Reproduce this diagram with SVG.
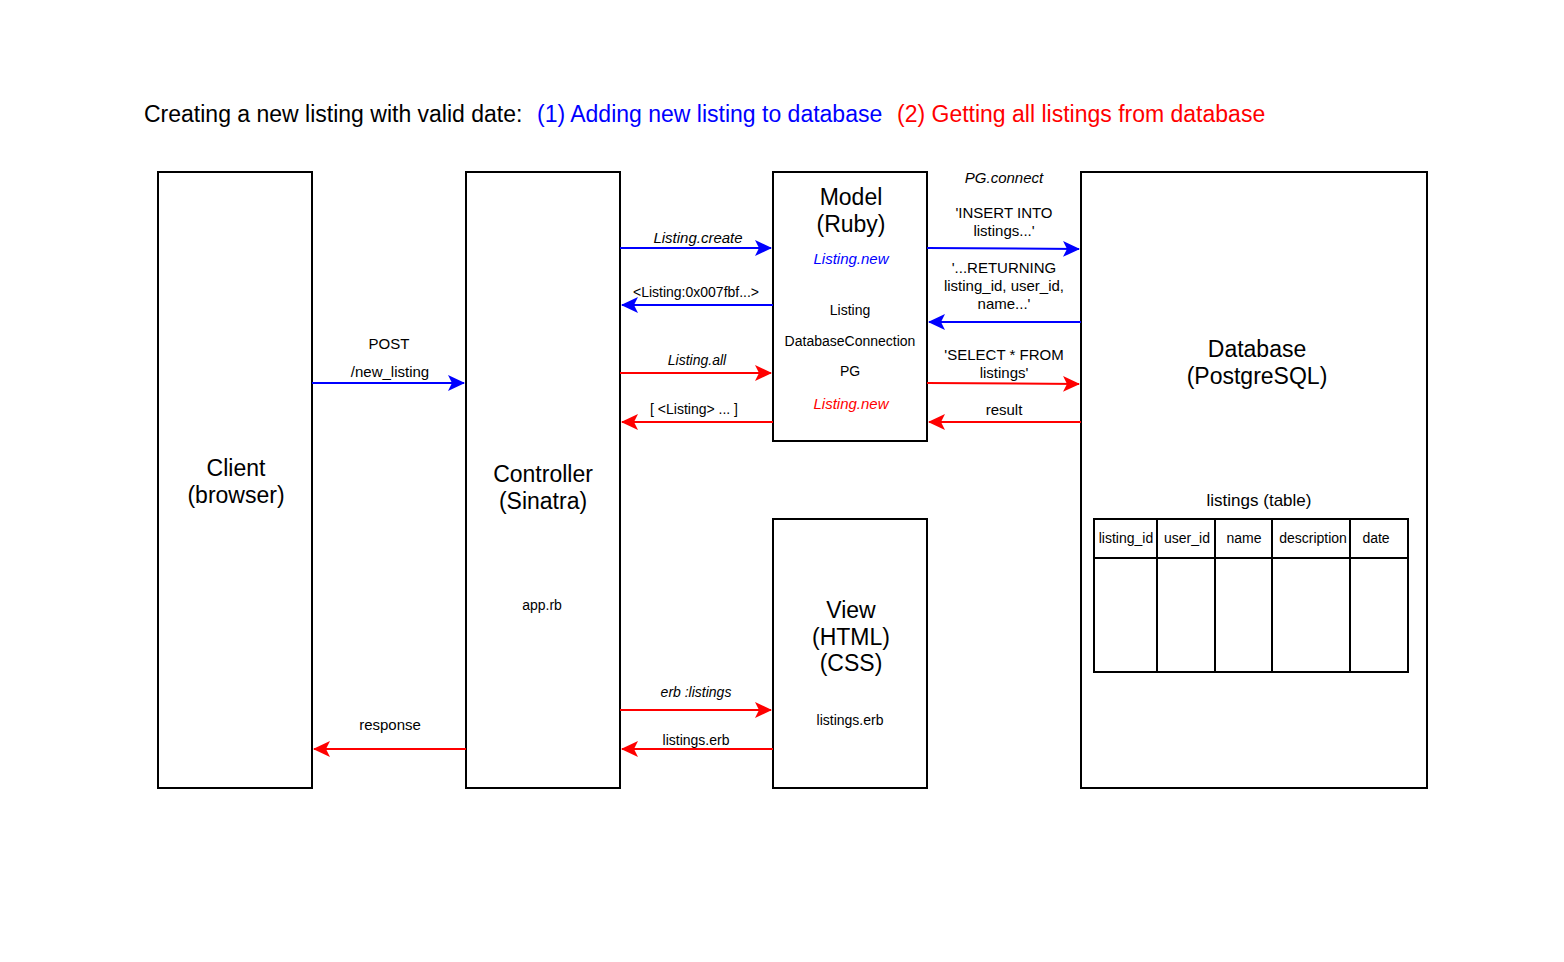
<svg xmlns="http://www.w3.org/2000/svg" width="1564" height="962" viewBox="0 0 1564 962">
<style>
text{font-family:"Liberation Sans",Arial,sans-serif;fill:#000;}
.box{fill:#fff;stroke:#000;stroke-width:2;}
.big{font-size:23px;text-anchor:middle;}
.sm{font-size:14px;text-anchor:middle;}
.md{font-size:15px;text-anchor:middle;}
.it{font-style:italic;}
.b{stroke:#0000FF;stroke-width:2;fill:none;marker-end:url(#ab);}
.r{stroke:#FF0000;stroke-width:2;fill:none;marker-end:url(#ar);}
.tl{stroke:#000;stroke-width:2;}
</style>
<defs>
<marker id="ab" markerUnits="userSpaceOnUse" markerWidth="18" markerHeight="18" viewBox="0 0 18 18" refX="16" refY="9" orient="auto">
<path d="M0,1 L17,9 L0,17 L4,9 Z" fill="#0000FF"/>
</marker>
<marker id="ar" markerUnits="userSpaceOnUse" markerWidth="18" markerHeight="18" viewBox="0 0 18 18" refX="16" refY="9" orient="auto">
<path d="M0,1 L17,9 L0,17 L4,9 Z" fill="#FF0000"/>
</marker>
</defs>
<rect width="1564" height="962" fill="#fff"/>
<g id="title">
<text x="144" y="122" font-size="23">Creating a new listing with valid date:</text>
<text x="537" y="122" font-size="23" style="fill:#0000FF">(1) Adding new listing to database</text>
<text x="897" y="122" font-size="23" style="fill:#FF0000">(2) Getting all listings from database</text>
</g>
<g id="client">
<rect class="box" x="158" y="172" width="154" height="616"/>
<text class="big" x="236" y="476">Client</text>
<text class="big" x="236" y="503">(browser)</text>
</g>
<g id="controller">
<rect class="box" x="466" y="172" width="154" height="616"/>
<text class="big" x="543" y="482">Controller</text>
<text class="big" x="543" y="509">(Sinatra)</text>
<text class="sm" x="542" y="610">app.rb</text>
</g>
<g id="model">
<rect class="box" x="773" y="172" width="154" height="269"/>
<text class="big" x="851" y="205">Model</text>
<text class="big" x="851" y="232">(Ruby)</text>
<text class="md it" x="851" y="264" style="fill:#0000FF">Listing.new</text>
<text class="sm" x="850" y="315">Listing</text>
<text class="sm" x="850" y="346">DatabaseConnection</text>
<text class="sm" x="850" y="376">PG</text>
<text class="md it" x="851" y="409" style="fill:#FF0000">Listing.new</text>
</g>
<g id="view">
<rect class="box" x="773" y="519" width="154" height="269"/>
<text class="big" x="851" y="618">View</text>
<text class="big" x="851" y="645">(HTML)</text>
<text class="big" x="851" y="671">(CSS)</text>
<text class="sm" x="850" y="725">listings.erb</text>
</g>
<g id="database">
<rect class="box" x="1081" y="172" width="346" height="616"/>
<text class="big" x="1257" y="357">Database</text>
<text class="big" x="1257" y="384">(PostgreSQL)</text>
<text x="1259" y="506" font-size="17" text-anchor="middle">listings (table)</text>
</g>
<g id="listings-table">
<rect class="box" x="1094" y="519" width="314" height="153"/>
<line class="tl" x1="1094" y1="558" x2="1408" y2="558"/>
<line class="tl" x1="1157" y1="519" x2="1157" y2="672"/>
<line class="tl" x1="1215" y1="519" x2="1215" y2="672"/>
<line class="tl" x1="1272" y1="519" x2="1272" y2="672"/>
<line class="tl" x1="1350" y1="519" x2="1350" y2="672"/>
<text class="sm" x="1126" y="543">listing_id</text>
<text class="sm" x="1187" y="543">user_id</text>
<text class="sm" x="1244" y="543">name</text>
<text class="sm" x="1313" y="543">description</text>
<text class="sm" x="1376" y="543">date</text>
</g>
<g id="connectors">
<path class="b" d="M312,383 L464,383"/>
<path class="b" d="M620,248 L771,248"/>
<path class="b" d="M773,305 L622,305"/>
<path class="r" d="M620,373 L771,373"/>
<path class="r" d="M773,422 L622,422"/>
<path class="r" d="M620,710 L771,710"/>
<path class="r" d="M773,749 L622,749"/>
<path class="r" d="M466,749 L314,749"/>
<path class="b" d="M927,248 L1079,249"/>
<path class="b" d="M1081,322 L929,322"/>
<path class="r" d="M927,383 L1079,384"/>
<path class="r" d="M1081,422 L929,422"/>
</g>
<g id="connector-labels">
<text class="md" x="389" y="349">POST</text>
<text class="md" x="390" y="377">/new_listing</text>
<text class="md it" x="698" y="243">Listing.create</text>
<text class="sm" x="696" y="297">&lt;Listing:0x007fbf...&gt;</text>
<text class="sm it" x="697" y="365">Listing.all</text>
<text class="sm" x="694" y="414">[ &lt;Listing&gt; ... ]</text>
<text class="sm it" x="696" y="697">erb :listings</text>
<text class="sm" x="696" y="745">listings.erb</text>
<text class="md" x="390" y="730">response</text>
<text class="md it" x="1004" y="183">PG.connect</text>
<text class="md" x="1004" y="218">'INSERT INTO</text>
<text class="md" x="1004" y="236">listings...'</text>
<text class="md" x="1004" y="273">'...RETURNING</text>
<text class="md" x="1004" y="291">listing_id, user_id,</text>
<text class="md" x="1004" y="309">name...'</text>
<text class="md" x="1004" y="360">'SELECT * FROM</text>
<text class="md" x="1004" y="378">listings'</text>
<text class="md" x="1004" y="415">result</text>
</g>
</svg>
